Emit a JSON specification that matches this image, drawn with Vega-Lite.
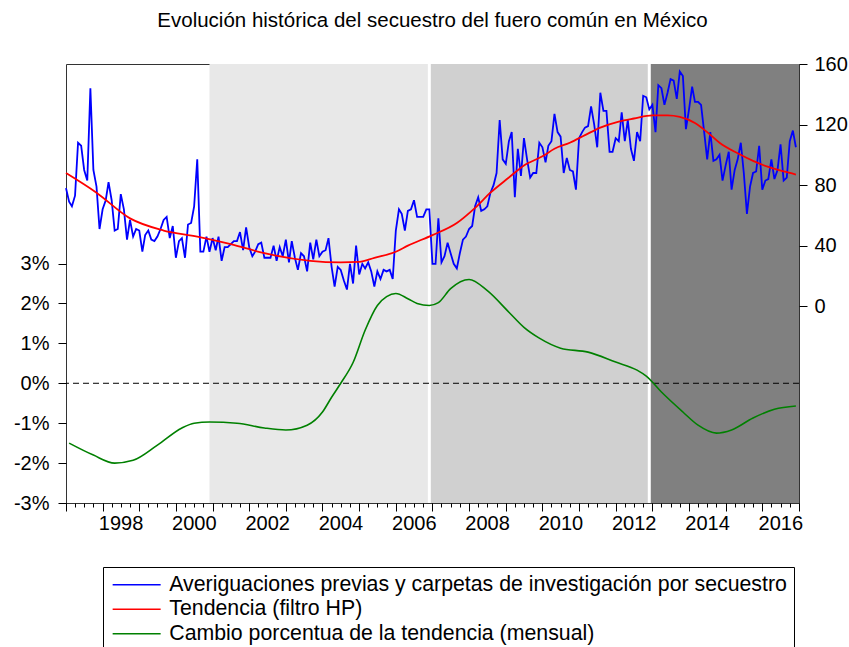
{
  "$schema": "https://vega.github.io/schema/vega-lite/v6.json",
  "width": 733,
  "height": 439,
  "autosize": {"type": "none"},
  "padding": {"left": 66, "top": 64, "right": 50, "bottom": 144},
  "background": "white",
  "title": {
    "text": "Evolución histórica del secuestro del fuero común en México",
    "anchor": "middle",
    "fontSize": 20.5,
    "fontWeight": "normal",
    "font": "Liberation Sans",
    "color": "#000",
    "offset": 23
  },
  "config": {
    "view": {"stroke": "#333", "strokeWidth": 1},
    "axis": {
      "labelFont": "Liberation Sans",
      "labelFontSize": 20,
      "labelColor": "#000",
      "tickColor": "#000",
      "domain": false,
      "grid": false,
      "title": null
    },
    "legend": {
      "labelFont": "Liberation Sans",
      "labelFontSize": 21.3,
      "labelColor": "#000"
    }
  },
  "datasets": {
    "periodos": [
      {"inicio": "2000-12", "fin": "2006-12", "periodo": "2000-2006"},
      {"inicio": "2006-12", "fin": "2012-12", "periodo": "2006-2012"},
      {"inicio": "2012-12", "fin": "2017-01", "periodo": "2012-2018"}
    ],
    "cortes": [{"fecha": "2006-12"}, {"fecha": "2012-12"}],
    "averiguaciones": [
      {"fecha":"1997-01","valor":78},{"fecha":"1997-02","valor":69},{"fecha":"1997-03","valor":66},{"fecha":"1997-04","valor":73},{"fecha":"1997-05","valor":108},{"fecha":"1997-06","valor":106},{"fecha":"1997-07","valor":90},{"fecha":"1997-08","valor":83},{"fecha":"1997-09","valor":144},{"fecha":"1997-10","valor":90},{"fecha":"1997-11","valor":79},{"fecha":"1997-12","valor":51},
      {"fecha":"1998-01","valor":64},{"fecha":"1998-02","valor":70},{"fecha":"1998-03","valor":82},{"fecha":"1998-04","valor":70},{"fecha":"1998-05","valor":50},{"fecha":"1998-06","valor":51},{"fecha":"1998-07","valor":74},{"fecha":"1998-08","valor":64},{"fecha":"1998-09","valor":44},{"fecha":"1998-10","valor":57},{"fecha":"1998-11","valor":46},{"fecha":"1998-12","valor":51},
      {"fecha":"1999-01","valor":50},{"fecha":"1999-02","valor":36},{"fecha":"1999-03","valor":47},{"fecha":"1999-04","valor":50},{"fecha":"1999-05","valor":44},{"fecha":"1999-06","valor":43},{"fecha":"1999-07","valor":46},{"fecha":"1999-08","valor":51},{"fecha":"1999-09","valor":57},{"fecha":"1999-10","valor":59},{"fecha":"1999-11","valor":45},{"fecha":"1999-12","valor":53},
      {"fecha":"2000-01","valor":32},{"fecha":"2000-02","valor":43},{"fecha":"2000-03","valor":45},{"fecha":"2000-04","valor":32},{"fecha":"2000-05","valor":54},{"fecha":"2000-06","valor":55},{"fecha":"2000-07","valor":66},{"fecha":"2000-08","valor":97},{"fecha":"2000-09","valor":36},{"fecha":"2000-10","valor":36},{"fecha":"2000-11","valor":46},{"fecha":"2000-12","valor":36},
      {"fecha":"2001-01","valor":45},{"fecha":"2001-02","valor":37},{"fecha":"2001-03","valor":46},{"fecha":"2001-04","valor":30},{"fecha":"2001-05","valor":39},{"fecha":"2001-06","valor":39},{"fecha":"2001-07","valor":41},{"fecha":"2001-08","valor":43},{"fecha":"2001-09","valor":43},{"fecha":"2001-10","valor":49},{"fecha":"2001-11","valor":37},{"fecha":"2001-12","valor":52},
      {"fecha":"2002-01","valor":39},{"fecha":"2002-02","valor":33},{"fecha":"2002-03","valor":36},{"fecha":"2002-04","valor":41},{"fecha":"2002-05","valor":42},{"fecha":"2002-06","valor":32},{"fecha":"2002-07","valor":32},{"fecha":"2002-08","valor":32},{"fecha":"2002-09","valor":40},{"fecha":"2002-10","valor":30},{"fecha":"2002-11","valor":39},{"fecha":"2002-12","valor":33},
      {"fecha":"2003-01","valor":44},{"fecha":"2003-02","valor":29},{"fecha":"2003-03","valor":43},{"fecha":"2003-04","valor":32},{"fecha":"2003-05","valor":24},{"fecha":"2003-06","valor":35},{"fecha":"2003-07","valor":33},{"fecha":"2003-08","valor":23},{"fecha":"2003-09","valor":42},{"fecha":"2003-10","valor":31},{"fecha":"2003-11","valor":44},{"fecha":"2003-12","valor":33},
      {"fecha":"2004-01","valor":36},{"fecha":"2004-02","valor":37},{"fecha":"2004-03","valor":45},{"fecha":"2004-04","valor":26},{"fecha":"2004-05","valor":13},{"fecha":"2004-06","valor":26},{"fecha":"2004-07","valor":24},{"fecha":"2004-08","valor":17},{"fecha":"2004-09","valor":11},{"fecha":"2004-10","valor":28},{"fecha":"2004-11","valor":15},{"fecha":"2004-12","valor":40},
      {"fecha":"2005-01","valor":21},{"fecha":"2005-02","valor":28},{"fecha":"2005-03","valor":25},{"fecha":"2005-04","valor":29},{"fecha":"2005-05","valor":23},{"fecha":"2005-06","valor":13},{"fecha":"2005-07","valor":23},{"fecha":"2005-08","valor":18},{"fecha":"2005-09","valor":24},{"fecha":"2005-10","valor":23},{"fecha":"2005-11","valor":24},{"fecha":"2005-12","valor":18},
      {"fecha":"2006-01","valor":50},{"fecha":"2006-02","valor":64},{"fecha":"2006-03","valor":61},{"fecha":"2006-04","valor":50},{"fecha":"2006-05","valor":63},{"fecha":"2006-06","valor":64},{"fecha":"2006-07","valor":70},{"fecha":"2006-08","valor":59},{"fecha":"2006-09","valor":59},{"fecha":"2006-10","valor":59},{"fecha":"2006-11","valor":64},{"fecha":"2006-12","valor":64},
      {"fecha":"2007-01","valor":28},{"fecha":"2007-02","valor":28},{"fecha":"2007-03","valor":58},{"fecha":"2007-04","valor":29},{"fecha":"2007-05","valor":33},{"fecha":"2007-06","valor":42},{"fecha":"2007-07","valor":35},{"fecha":"2007-08","valor":28},{"fecha":"2007-09","valor":25},{"fecha":"2007-10","valor":35},{"fecha":"2007-11","valor":44},{"fecha":"2007-12","valor":46},
      {"fecha":"2008-01","valor":51},{"fecha":"2008-02","valor":53},{"fecha":"2008-03","valor":66},{"fecha":"2008-04","valor":72},{"fecha":"2008-05","valor":63},{"fecha":"2008-06","valor":64},{"fecha":"2008-07","valor":66},{"fecha":"2008-08","valor":75},{"fecha":"2008-09","valor":80},{"fecha":"2008-10","valor":88},{"fecha":"2008-11","valor":123},{"fecha":"2008-12","valor":97},
      {"fecha":"2009-01","valor":94},{"fecha":"2009-02","valor":109},{"fecha":"2009-03","valor":115},{"fecha":"2009-04","valor":72},{"fecha":"2009-05","valor":104},{"fecha":"2009-06","valor":86},{"fecha":"2009-07","valor":111},{"fecha":"2009-08","valor":97},{"fecha":"2009-09","valor":85},{"fecha":"2009-10","valor":88},{"fecha":"2009-11","valor":88},{"fecha":"2009-12","valor":108},
      {"fecha":"2010-01","valor":105},{"fecha":"2010-02","valor":95},{"fecha":"2010-03","valor":106},{"fecha":"2010-04","valor":109},{"fecha":"2010-05","valor":127},{"fecha":"2010-06","valor":115},{"fecha":"2010-07","valor":112},{"fecha":"2010-08","valor":88},{"fecha":"2010-09","valor":98},{"fecha":"2010-10","valor":90},{"fecha":"2010-11","valor":89},{"fecha":"2010-12","valor":77},
      {"fecha":"2011-01","valor":111},{"fecha":"2011-02","valor":115},{"fecha":"2011-03","valor":118},{"fecha":"2011-04","valor":119},{"fecha":"2011-05","valor":132},{"fecha":"2011-06","valor":120},{"fecha":"2011-07","valor":105},{"fecha":"2011-08","valor":141},{"fecha":"2011-09","valor":129},{"fecha":"2011-10","valor":129},{"fecha":"2011-11","valor":102},{"fecha":"2011-12","valor":102},
      {"fecha":"2012-01","valor":111},{"fecha":"2012-02","valor":109},{"fecha":"2012-03","valor":128},{"fecha":"2012-04","valor":109},{"fecha":"2012-05","valor":123},{"fecha":"2012-06","valor":104},{"fecha":"2012-07","valor":96},{"fecha":"2012-08","valor":115},{"fecha":"2012-09","valor":109},{"fecha":"2012-10","valor":139},{"fecha":"2012-11","valor":138},{"fecha":"2012-12","valor":130},
      {"fecha":"2013-01","valor":133},{"fecha":"2013-02","valor":115},{"fecha":"2013-03","valor":146},{"fecha":"2013-04","valor":144},{"fecha":"2013-05","valor":133},{"fecha":"2013-06","valor":141},{"fecha":"2013-07","valor":150},{"fecha":"2013-08","valor":149},{"fecha":"2013-09","valor":137},{"fecha":"2013-10","valor":155},{"fecha":"2013-11","valor":152},{"fecha":"2013-12","valor":117},
      {"fecha":"2014-01","valor":130},{"fecha":"2014-02","valor":145},{"fecha":"2014-03","valor":135},{"fecha":"2014-04","valor":135},{"fecha":"2014-05","valor":133},{"fecha":"2014-06","valor":115},{"fecha":"2014-07","valor":97},{"fecha":"2014-08","valor":115},{"fecha":"2014-09","valor":96},{"fecha":"2014-10","valor":97},{"fecha":"2014-11","valor":100},{"fecha":"2014-12","valor":83},
      {"fecha":"2015-01","valor":93},{"fecha":"2015-02","valor":102},{"fecha":"2015-03","valor":77},{"fecha":"2015-04","valor":90},{"fecha":"2015-05","valor":97},{"fecha":"2015-06","valor":108},{"fecha":"2015-07","valor":88},{"fecha":"2015-08","valor":61},{"fecha":"2015-09","valor":79},{"fecha":"2015-10","valor":88},{"fecha":"2015-11","valor":89},{"fecha":"2015-12","valor":106},
      {"fecha":"2016-01","valor":77},{"fecha":"2016-02","valor":83},{"fecha":"2016-03","valor":84},{"fecha":"2016-04","valor":97},{"fecha":"2016-05","valor":84},{"fecha":"2016-06","valor":90},{"fecha":"2016-07","valor":107},{"fecha":"2016-08","valor":83},{"fecha":"2016-09","valor":85},{"fecha":"2016-10","valor":109},{"fecha":"2016-11","valor":116},{"fecha":"2016-12","valor":105}
    ],
    "tendencia": [
      {"fecha":"1997-01","valor":88},{"fecha":"1997-11","valor":75},{"fecha":"1998-10","valor":58},{"fecha":"1999-09","valor":50},
      {"fecha":"2000-08","valor":46},{"fecha":"2001-07","valor":41},{"fecha":"2002-06","valor":35},{"fecha":"2003-09","valor":30},
      {"fecha":"2004-07","valor":29},{"fecha":"2005-01","valor":29.3},{"fecha":"2005-06","valor":32},{"fecha":"2006-01","valor":36},
      {"fecha":"2006-05","valor":40},{"fecha":"2007-01","valor":47},{"fecha":"2007-09","valor":55},{"fecha":"2008-03","valor":65},
      {"fecha":"2008-08","valor":75},{"fecha":"2009-02","valor":85},{"fecha":"2009-07","valor":93},{"fecha":"2010-01","valor":99},
      {"fecha":"2010-05","valor":104},{"fecha":"2010-10","valor":108},{"fecha":"2011-03","valor":113},{"fecha":"2011-08","valor":118},
      {"fecha":"2012-02","valor":122},{"fecha":"2012-07","valor":124},{"fecha":"2013-01","valor":126},{"fecha":"2013-06","valor":126},
      {"fecha":"2013-10","valor":125},{"fecha":"2014-03","valor":121},{"fecha":"2014-07","valor":115},{"fecha":"2014-11","valor":108},
      {"fecha":"2015-05","valor":101},{"fecha":"2015-10","valor":96},{"fecha":"2016-03","valor":92},{"fecha":"2016-08","valor":89},
      {"fecha":"2016-12","valor":87}
    ],
    "cambio": [
      {"fecha":"1997-02","valor":-1.50},{"fecha":"1997-10","valor":-1.80},{"fecha":"1998-05","valor":-2.00},{"fecha":"1998-11","valor":-1.93},
      {"fecha":"1999-07","valor":-1.55},{"fecha":"2000-03","valor":-1.12},{"fecha":"2000-07","valor":-1.00},{"fecha":"2000-12","valor":-0.97},
      {"fecha":"2001-09","valor":-1.00},{"fecha":"2002-06","valor":-1.12},{"fecha":"2003-01","valor":-1.17},{"fecha":"2003-08","valor":-1.05},
      {"fecha":"2004-01","valor":-0.72},{"fecha":"2004-04","valor":-0.35},{"fecha":"2004-07","valor":0.00},{"fecha":"2004-11","valor":0.52},
      {"fecha":"2005-03","valor":1.33},{"fecha":"2005-07","valor":1.95},{"fecha":"2005-10","valor":2.17},{"fecha":"2006-01","valor":2.25},
      {"fecha":"2006-05","valor":2.12},{"fecha":"2006-08","valor":2.00},{"fecha":"2006-12","valor":1.95},{"fecha":"2007-03","valor":2.02},
      {"fecha":"2007-07","valor":2.37},{"fecha":"2008-01","valor":2.60},{"fecha":"2008-07","valor":2.32},{"fecha":"2009-02","valor":1.78},
      {"fecha":"2009-07","valor":1.40},{"fecha":"2009-12","valor":1.13},{"fecha":"2010-07","valor":0.88},{"fecha":"2011-04","valor":0.78},
      {"fecha":"2012-01","valor":0.53},{"fecha":"2012-08","valor":0.33},{"fecha":"2012-11","valor":0.18},{"fecha":"2013-04","valor":-0.22},
      {"fecha":"2013-11","valor":-0.72},{"fecha":"2014-04","valor":-1.05},{"fecha":"2014-10","valor":-1.25},{"fecha":"2015-03","valor":-1.17},
      {"fecha":"2015-10","valor":-0.87},{"fecha":"2016-05","valor":-0.65},{"fecha":"2016-12","valor":-0.57}
    ]
  },
  "layer": [
    {
      "data": {"name": "periodos"},
      "mark": {"type": "rect"},
      "encoding": {
        "x": {
          "field": "inicio", "type": "temporal",
          "scale": {"type": "utc", "domain": [{"year": 1997, "month": 1, "date": 1, "utc": true}, {"year": 2017, "month": 1, "date": 1, "utc": true}]},
          "axis": {"orient": "bottom", "tickCount": {"interval": "month", "step": 3}, "labels": false, "tickSize": 4, "tickWidth": 1}
        },
        "x2": {"field": "fin"},
        "fill": {"field": "periodo", "type": "nominal", "scale": {"domain": ["2000-2006", "2006-2012", "2012-2018"], "range": ["#E8E8E8", "#D0D0D0", "#808080"]}, "legend": null}
      }
    },
    {
      "data": {"name": "cortes"},
      "mark": {"type": "rule", "color": "white", "strokeWidth": 3},
      "encoding": {
        "x": {"field": "fecha", "type": "temporal", "axis": null}
      }
    },
    {
      "data": {"values": [{"cero": 0}]},
      "mark": {"type": "rule", "color": "#000", "strokeWidth": 1, "strokeDash": [6, 4]},
      "encoding": {
        "y": {"field": "cero", "type": "quantitative", "scale": {"domain": [-3, 8], "nice": false, "zero": false}, "axis": null}
      }
    },
    {
      "data": {"name": "cambio"},
      "mark": {"type": "line", "strokeWidth": 1.6, "interpolate": "monotone"},
      "encoding": {
        "x": {"field": "fecha", "type": "temporal", "axis": null},
        "y": {"field": "valor", "type": "quantitative", "scale": {"domain": [-3, 8], "nice": false, "zero": false},
              "axis": {"orient": "left", "values": [-3, -2, -1, 0, 1, 2, 3], "labelExpr": "datum.value + '%'", "tickSize": 8, "labelPadding": 9}},
        "color": {"datum": "Cambio porcentua de la tendencia (mensual)"}
      }
    },
    {
      "data": {"name": "averiguaciones"},
      "mark": {"type": "line", "strokeWidth": 1.8},
      "encoding": {
        "x": {"field": "fecha", "type": "temporal",
              "axis": {"orient": "bottom", "tickCount": {"interval": "year", "step": 1}, "tickSize": 8, "labelPadding": 2, "labelOffset": 18, "labelFlush": false, "labelOverlap": false,
                       "labelExpr": "utcyear(datum.value) % 2 == 0 ? utcFormat(datum.value, '%Y') : ''"}},
        "y": {"field": "valor", "type": "quantitative", "scale": {"domain": [-130, 160], "nice": false, "zero": false},
              "axis": {"orient": "right", "values": [0, 40, 80, 120, 160], "tickSize": 8, "labelPadding": 7}},
        "color": {"datum": "Averiguaciones previas y carpetas de investigación por secuestro"}
      }
    },
    {
      "data": {"name": "tendencia"},
      "mark": {"type": "line", "strokeWidth": 1.8, "interpolate": "monotone"},
      "encoding": {
        "x": {"field": "fecha", "type": "temporal", "axis": null},
        "y": {"field": "valor", "type": "quantitative", "scale": {"domain": [-130, 160], "nice": false, "zero": false}, "axis": null},
        "color": {
          "datum": "Tendencia (filtro HP)",
          "scale": {
            "domain": ["Averiguaciones previas y carpetas de investigación por secuestro", "Tendencia (filtro HP)", "Cambio porcentua de la tendencia (mensual)"],
            "range": ["#0000FF", "#FF0000", "#008000"]
          },
          "legend": {
            "title": null,
            "orient": "none",
            "legendX": 37,
            "legendY": 503,
            "direction": "vertical",
            "strokeColor": "#000",
            "fillColor": "#fff",
            "padding": 7,
            "symbolType": "M-3,0H3",
            "symbolSize": 256,
            "symbolStrokeWidth": 1.5,
            "symbolOffset": 16,
            "labelOffset": 22,
            "labelLimit": 800,
            "rowPadding": 2.5
          }
        }
      }
    }
  ],
  "resolve": {
    "scale": {"y": "independent"},
    "axis": {"x": "independent", "y": "independent"}
  }
}
